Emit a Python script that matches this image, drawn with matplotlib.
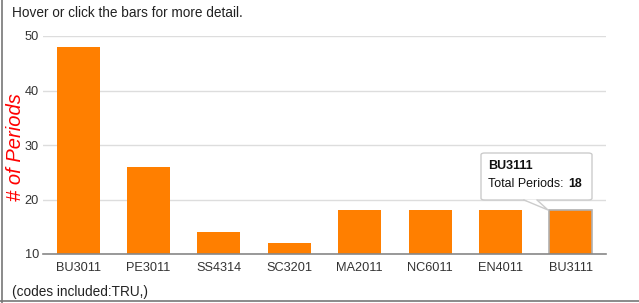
import matplotlib.pyplot as plt
from matplotlib.patches import FancyBboxPatch, Polygon

plt.rcParams['font.family'] = ['Liberation Sans', 'DejaVu Sans']

courses = ['BU3011', 'PE3011', 'SS4314', 'SC3201', 'MA2011', 'NC6011', 'EN4011', 'BU3111']
periods = [48, 26, 14, 12, 18, 18, 18, 18]
y_ticks = [10, 20, 30, 40, 50]

W, H = 639, 303
fig = plt.figure(figsize=(W / 100, H / 100), dpi=100)
# axes placed in pixel terms: x 43..606, y 36..254
ax = fig.add_axes([43 / W, 1 - 254 / H, (606 - 43) / W, (254 - 36) / H])

x = list(range(len(courses)))
bars = ax.bar(x, periods, width=0.61, bottom=0, color='#ff7f00', zorder=3)
# hovered bar gets a grey outline
bars[-1].set_edgecolor('#b0b0b0')
bars[-1].set_linewidth(1.2)

ax.set_xlim(-0.5, len(courses) - 0.5)
ax.set_ylim(10, 50)
ax.set_yticks(y_ticks)
ax.set_xticks(x)
ax.set_xticklabels(courses)
ax.tick_params(axis='both', length=0, labelsize=9.2, colors='#333333', pad=6)
ax.tick_params(axis='y', pad=3)
ax.grid(axis='y', color='#dddddd', linewidth=1, zorder=0)
for s in ['top', 'right', 'left']:
    ax.spines[s].set_visible(False)
ax.spines['bottom'].set_color('#888888')
ax.spines['bottom'].set_linewidth(1.2)
ax.spines['bottom'].set_zorder(4)

fig.text(15.5 / W, 1 - 147 / H, '# of Periods', color='red', style='italic',
         fontsize=14.5, rotation=90, ha='center', va='center')

fig.text(12 / W, 1 - 13 / H, 'Hover or click the bars for more detail.',
         fontsize=9.8, color='#222222', va='center', ha='left')
fig.text(12 / W, 1 - 292 / H, '(codes included:TRU,)',
         fontsize=9.8, color='#222222', va='center', ha='left')

# tooltip box
box = FancyBboxPatch((481 / W, 1 - 200 / H), 111 / W, 47 / H,
                     boxstyle='round,pad=0,rounding_size=0.006',
                     transform=fig.transFigure, facecolor='white',
                     edgecolor='#cccccc', linewidth=1, zorder=10)
fig.add_artist(box)
tail = Polygon([(524 / W, 1 - 199.5 / H), (537 / W, 1 - 199.5 / H), (548 / W, 1 - 210 / H)],
               closed=True, transform=fig.transFigure, facecolor='white',
               edgecolor='none', zorder=11)
fig.add_artist(tail)
fig.add_artist(plt.Line2D([524 / W, 548 / W, 537 / W], [1 - 200 / H, 1 - 210 / H, 1 - 200 / H],
                          transform=fig.transFigure, color='#cccccc', linewidth=1, zorder=12))
fig.text(488 / W, 1 - 166 / H, courses[-1], fontsize=9, fontweight='bold',
         color='#111111', va='center', zorder=13)
fig.text(488 / W, 1 - 184 / H, 'Total Periods:', fontsize=8.9,
         color='#111111', va='center', zorder=13)
fig.text(568 / W, 1 - 184 / H, str(periods[-1]), fontsize=8.9, fontweight='bold',
         color='#111111', va='center', zorder=13)

# frame edges
fig.add_artist(plt.Line2D([2 / W, 2 / W], [0, 1], transform=fig.transFigure,
                          color='#777777', linewidth=1.2))
fig.add_artist(plt.Line2D([0, 1], [1 - 300.5 / H, 1 - 300.5 / H], transform=fig.transFigure,
                          color='#777777', linewidth=1.2))

fig.savefig('out.png', dpi=100)
